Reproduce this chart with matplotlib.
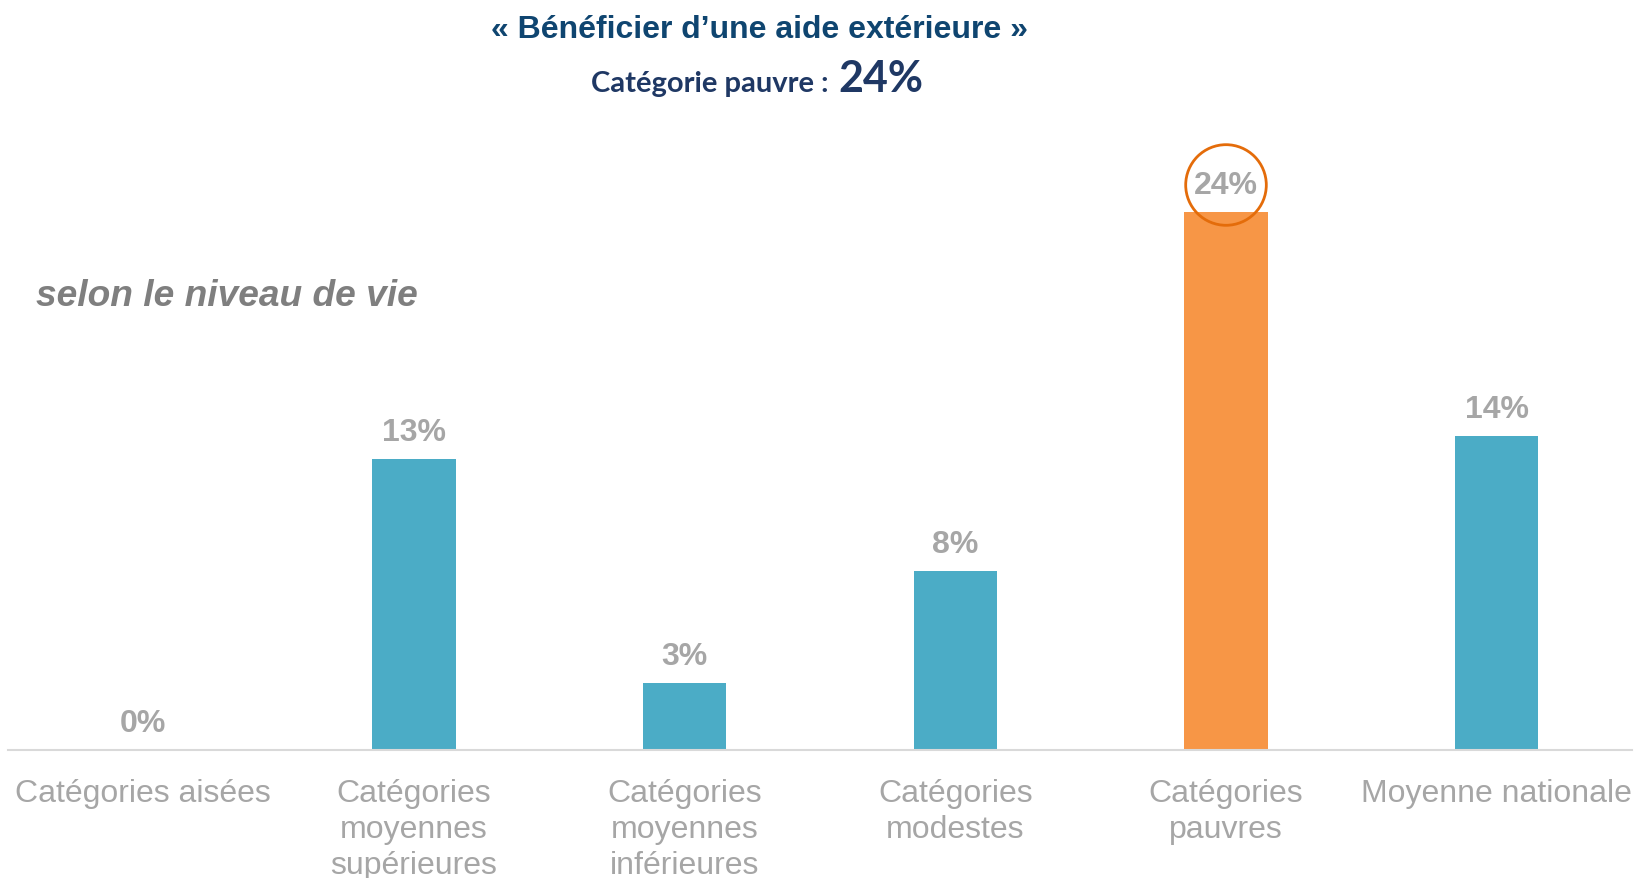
import matplotlib.pyplot as plt

categories = ["Catégories aisées", "Catégories\nmoyennes\nsupérieures", "Catégories\nmoyennes\ninférieures",
              "Catégories\nmodestes", "Catégories\npauvres", "Moyenne nationale"]
values = [0, 13, 3, 8, 24, 14]
labels = ["0%", "13%", "3%", "8%", "24%", "14%"]
highlight = 4

blue = "#4BACC6"
orange = "#F79646"
grey = "#A6A6A6"

plt.rcParams['font.family'] = ['Liberation Sans', 'DejaVu Sans']

fig = plt.figure(figsize=(16.35, 8.79), dpi=100)
ax = fig.add_axes([8 / 1635, 1 - 751 / 879, 1624 / 1635, 650 / 879])

colors = [orange if i == highlight else blue for i in range(len(values))]
ax.bar(range(len(values)), values, width=0.307, color=colors, zorder=2)

for i, (v, lab) in enumerate(zip(values, labels)):
    kw = {}
    if i == highlight:
        kw['bbox'] = dict(boxstyle='circle,pad=0.26', fc='none', ec='#E46C0A', lw=2)
    ax.annotate(lab, (i, v), xytext=(0, 19.5), textcoords='offset points',
                ha='center', va='center', fontsize=23, fontweight='bold', color=grey, **kw)

ax.set_xlim(-0.5, len(values) - 0.5)
ax.set_ylim(0, 29)
ax.set_xticks(range(len(values)))
ax.set_xticklabels(categories, fontsize=23, color=grey, linespacing=1.26)
ax.tick_params(axis='x', length=0, pad=20)
ax.set_yticks([])
for s in ['top', 'right', 'left']:
    ax.spines[s].set_visible(False)
ax.spines['bottom'].set_color('#D9D9D9')
ax.spines['bottom'].set_linewidth(1.5)

fig.text(759 / 1635, 1 - 30 / 879, "« Bénéficier d’une aide extérieure »", ha='center', va='center',
         fontsize=23, fontweight='bold', color='#0F4570')
fig.text(836 / 1635, 1 - 92 / 879, "Catégorie pauvre : ", ha='right', va='baseline',
         fontsize=21, fontweight='bold', color='#1F3864', family=['Lato', 'DejaVu Sans'])
fig.text(838 / 1635, 1 - 92 / 879, "24%", ha='left', va='baseline',
         fontsize=31, fontweight='bold', color='#1F3864', family=['Lato', 'DejaVu Sans'])
fig.text(36 / 1635, 1 - 297 / 879, "selon le niveau de vie", ha='left', va='center',
         fontsize=26.7, fontweight='bold', fontstyle='italic', color='#7F7F7F')

fig.savefig("out.png", dpi=100)
